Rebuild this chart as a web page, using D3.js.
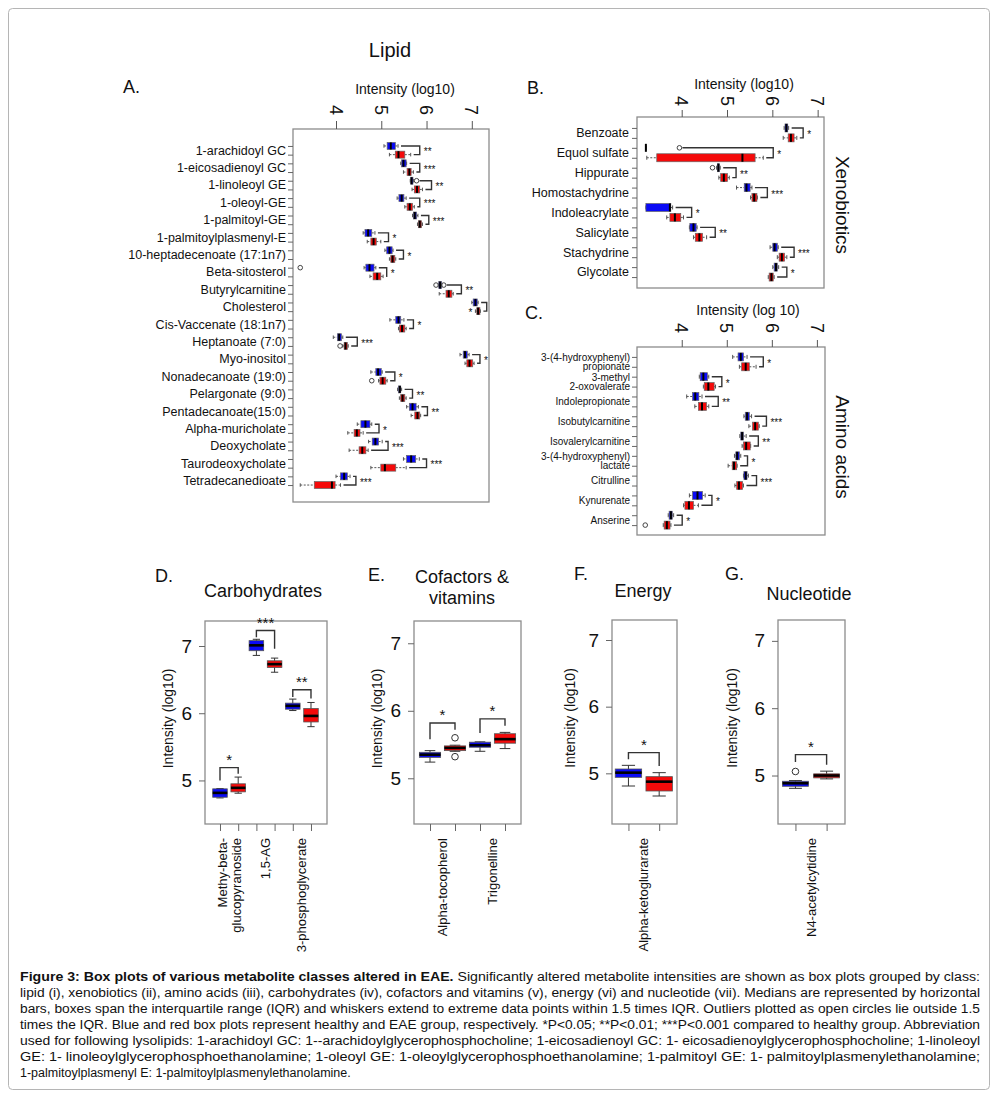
<!DOCTYPE html>
<html>
<head>
<meta charset="utf-8">
<script src="https://cdn.jsdelivr.net/npm/d3@7"></script>
<style>
  body { margin: 0; background: #fff; }
  svg text { font-family: "Liberation Sans", Arial, sans-serif; fill: #111; }
</style>
</head>
<body>
<div id="chart"></div>
<script>

// ---- data (log10 intensity: [low whisker, Q1, median, Q3, high whisker]) ----
var intensityTicks = [4, 5, 6, 7];

var lipidNames = ['1-arachidoyl GC', '1-eicosadienoyl GC', '1-linoleoyl GE', '1-oleoyl-GE', '1-palmitoyl-GE',
  '1-palmitoylplasmenyl-E', '10-heptadecenoate (17:1n7)', 'Beta-sitosterol', 'Butyrylcarnitine', 'Cholesterol',
  'Cis-Vaccenate (18:1n7)', 'Heptanoate (7:0)', 'Myo-inositol', 'Nonadecanoate (19:0)', 'Pelargonate (9:0)',
  'Pentadecanoate(15:0)', 'Alpha-muricholate', 'Deoxycholate', 'Taurodeoxycholate', 'Tetradecanedioate'];
var lipidHealthy = [[5.06,5.13,5.21,5.31,5.37],[5.43,5.45,5.49,5.55,5.56],[5.64,5.65,5.67,5.70,5.71],[5.35,5.39,5.45,5.50,5.55],
  [5.69,5.71,5.74,5.78,5.81],[4.60,4.64,4.71,4.79,4.86],[5.08,5.12,5.18,5.24,5.26],[4.62,4.66,4.74,4.84,4.88],
  [6.26,6.27,6.30,6.33,6.34],[7.00,7.03,7.08,7.12,7.14],[5.19,5.32,5.38,5.43,5.50],[3.94,4.03,4.07,4.12,4.15],
  [6.74,6.81,6.85,6.90,6.94],[4.77,4.88,4.93,5.00,5.02],[5.36,5.38,5.41,5.43,5.45],[5.56,5.62,5.69,5.77,5.82],
  [4.47,4.55,4.65,4.75,4.79],[4.72,4.80,4.87,4.94,5.02],[5.49,5.56,5.66,5.76,5.84],[4.00,4.10,4.18,4.25,4.31]];
var lipidEAE = [[5.18,5.31,5.38,5.52,5.65],[5.49,5.57,5.62,5.66,5.71],[5.68,5.73,5.79,5.85,5.91],[5.52,5.57,5.63,5.69,5.73],
  [5.80,5.82,5.85,5.89,5.91],[4.69,4.77,4.83,4.89,4.99],[5.18,5.21,5.25,5.30,5.32],[4.75,4.82,4.91,4.99,5.04],
  [6.28,6.43,6.49,6.56,6.59],[7.08,7.11,7.14,7.18,7.19],[5.38,5.40,5.46,5.52,5.55],[4.15,4.18,4.21,4.25,4.27],
  [6.85,6.89,6.95,7.02,7.05],[4.94,4.97,5.03,5.10,5.13],[5.40,5.43,5.47,5.52,5.55],[5.66,5.74,5.80,5.85,5.87],
  [4.26,4.40,4.46,4.53,4.60],[4.29,4.51,4.58,4.66,4.71],[4.77,4.99,5.08,5.32,5.55],[3.21,3.52,3.91,3.98,4.10]];
var lipidOutHealthy = [[],[],[5.78],[],[],[],[],[3.21],[6.21,6.38],[],[],[],[],[],[],[],[],[],[],[]];
var lipidOutEAE = [[],[],[],[],[],[],[],[],[],[],[],[4.09],[],[4.79],[],[],[],[],[],[]];
var lipidSig = ['**','***','**','***','***','*','*','*','**','*','*','***','*','*','**','**','*','***','***','***'];
var lipidBracket = [5.85,5.85,6.11,5.85,6.05,5.16,5.49,5.12,6.77,7.33,5.71,4.47,7.18,5.30,5.69,6.02,4.95,5.15,6.00,4.44];

var xenoNames = ['Benzoate', 'Equol sulfate', 'Hippurate', 'Homostachydrine', 'Indoleacrylate', 'Salicylate', 'Stachydrine', 'Glycolate'];
var xenoHealthy = [[6.26,6.28,6.31,6.34,6.36],[3.21,3.21,3.21,3.21,3.21],[4.77,4.79,4.81,4.83,4.85],[5.21,5.38,5.43,5.51,5.55],
  [3.21,3.21,3.74,3.76,3.80],[4.17,4.18,4.26,4.32,4.34],[5.95,6.01,6.05,6.11,6.13],[6.01,6.04,6.08,6.11,6.14]];
var xenoEAE = [[6.24,6.35,6.41,6.48,6.54],[3.23,3.45,5.34,5.62,5.80],[4.82,4.86,4.93,5.01,5.05],[5.52,5.55,5.60,5.66,5.67],
  [3.67,3.74,3.85,3.98,4.04],[4.26,4.30,4.39,4.46,4.55],[6.11,6.15,6.21,6.27,6.32],[5.91,5.93,5.98,6.02,6.04]];
var xenoOutHealthy = [[],[3.95],[4.68],[],[],[],[],[]];
var xenoOutEAE = [[],[],[],[],[],[],[],[]];
var xenoSig = ['*','*','**','***','*','**','***','*'];
var xenoBracket = [6.68,6.02,5.20,5.89,4.22,4.74,6.48,6.32];

var aminoNames = ['3-(4-hydroxyphenyl)\npropionate', '3-methyl\n2-oxovalerate', 'Indolepropionate', 'Isobutylcarnitine',
  'Isovalerylcarnitine', '3-(4-hydroxyphenyl)\nlactate', 'Citrulline', 'Kynurenate', 'Anserine'];
var aminoHealthy = [[5.13,5.25,5.31,5.37,5.45],[4.39,4.41,4.48,4.57,4.60],[4.11,4.24,4.30,4.38,4.45],[5.38,5.41,5.45,5.50,5.55],
  [5.29,5.31,5.34,5.37,5.43],[5.17,5.20,5.23,5.28,5.31],[5.37,5.38,5.42,5.45,5.48],[4.17,4.24,4.35,4.46,4.52],[3.70,3.72,3.76,3.79,3.82]];
var aminoEAE = [[5.28,5.33,5.42,5.50,5.65],[4.48,4.50,4.59,4.72,4.75],[4.29,4.37,4.45,4.55,4.60],[5.49,5.57,5.63,5.70,5.72],
  [5.34,5.37,5.43,5.52,5.53],[5.03,5.12,5.16,5.22,5.23],[5.18,5.22,5.27,5.35,5.37],[4.04,4.07,4.16,4.26,4.37],[3.59,3.61,3.67,3.74,3.76]];
var aminoOutHealthy = [[],[],[],[],[],[],[],[],[]];
var aminoOutEAE = [[],[],[],[],[],[],[],[],[3.19]];
var aminoSig = ['*','*','**','***','**','*','***','*','*'];
var aminoBracket = [5.81,4.89,4.81,5.88,5.70,5.46,5.66,4.67,4.01];

// bottom panels: bracket = [top, healthy leg end, EAE leg end]
var carbNames = ['Methy-beta-\nglucopyranoside', '1,5-AG', '3-phosphoglycerate'];
var carbHealthy = [[4.74,4.75,4.815,4.875,4.88],[6.86,6.93,7.01,7.08,7.10],[6.04,6.06,6.11,6.15,6.21]];
var carbEAE = [[4.81,4.83,4.89,4.95,5.05],[6.61,6.68,6.73,6.78,6.82],[5.80,5.87,5.96,6.07,6.16]];
var carbOutHealthy = [[],[],[]];
var carbOutEAE = [[],[],[]];
var carbSig = ['*','***','**'];
var carbBracket = [[5.19,5.00,5.10],[7.23,7.13,6.96],[6.35,6.24,6.22]];

var cofNames = ['Alpha-tocopherol', 'Trigonelline'];
var cofHealthy = [[5.24,5.31,5.35,5.385,5.41],[5.40,5.46,5.49,5.535,5.54]];
var cofEAE = [[5.40,5.41,5.45,5.48,5.49],[5.44,5.52,5.58,5.66,5.68]];
var cofOutHealthy = [[],[]];
var cofOutEAE = [[5.60,5.32],[]];
var cofSig = ['*','*'];
var cofBracket = [[5.82,5.58,5.72],[5.88,5.67,5.78]];

var energyNames = ['Alpha-ketoglurarate'];
var energyHealthy = [[4.81,4.94,5.01,5.065,5.12]];
var energyEAE = [[4.66,4.735,4.875,4.95,5.01]];
var energyOutHealthy = [[]];
var energyOutEAE = [[]];
var energySig = ['*'];
var energyBracket = [[5.31,5.21,5.11]];

var nucNames = ['N4-acetylcytidine'];
var nucHealthy = [[4.81,4.84,4.885,4.915,4.925]];
var nucEAE = [[4.95,4.965,5.00,5.025,5.065]];
var nucOutHealthy = [[5.06]];
var nucOutEAE = [[]];
var nucSig = ['*'];
var nucBracket = [[5.31,5.20,5.16]];

var captionLines = [
  ['Figure 3: Box plots of various metabolite classes altered in EAE.', ' Significantly altered metabolite intensities are shown as box plots grouped by class:'],
  ['', 'lipid (i), xenobiotics (ii), amino acids (iii), carbohydrates (iv), cofactors and vitamins (v), energy (vi) and nucleotide (vii). Medians are represented by horizontal'],
  ['', 'bars, boxes span the interquartile range (IQR) and whiskers extend to extreme data points within 1.5 times IQR. Outliers plotted as open circles lie outside 1.5'],
  ['', 'times the IQR. Blue and red box plots represent healthy and EAE group, respectively. *P<0.05; **P<0.01; ***P<0.001 compared to healthy group. Abbreviation'],
  ['', 'used for following lysolipids: 1-arachidoyl GC: 1--arachidoylglycerophosphocholine; 1-eicosadienoyl GC: 1- eicosadienoylglycerophosphocholine; 1-linoleoyl'],
  ['', 'GE: 1- linoleoylglycerophosphoethanolamine; 1-oleoyl GE: 1-oleoylglycerophosphoethanolamine; 1-palmitoyl GE: 1- palmitoylplasmenylethanolamine;'],
  ['', '1-palmitoylplasmenyl E: 1-palmitoylplasmenylethanolamine.']
];

var BLUE = '#0a0af5', RED = '#f50a0a';

var svg = d3.select('#chart').append('svg')
    .attr('width', 1000)
    .attr('height', 1095);

svg.append('rect')
    .attr('x', 8.5).attr('y', 8.5)
    .attr('width', 981).attr('height', 1081)
    .attr('rx', 4)
    .attr('fill', 'none')
    .attr('stroke', '#b5b5b5');

function label(x, y, txt, size, opts) {
  opts = opts || {};
  var t = svg.append('text')
      .attr('x', x).attr('y', y)
      .attr('font-size', size)
      .attr('text-anchor', opts.anchor || 'start')
      .text(txt);
  if (opts.rotate) t.attr('transform', 'rotate(' + opts.rotate + ',' + x + ',' + y + ')');
  return t;
}

function makeBoxes(healthy, eae, outH, outE) {
  var boxes = [];
  healthy.forEach(function (s, i) {
    boxes.push({ s: s, out: outH[i], color: BLUE, pos: 2 * i });
    boxes.push({ s: eae[i], out: outE[i], color: RED, pos: 2 * i + 1 });
  });
  return boxes;
}

// horizontal box plots (panels A, B, C)
function drawHorizontal(p) {

  var x = d3.scaleLinear().domain(p.xDomain).range([p.left, p.right]);
  var y = d3.scaleLinear().domain(p.yDomain).range([p.top, p.bottom]);
  var n = p.names.length;
  var g = svg.append('g');

  g.append('rect')
      .attr('x', p.left).attr('y', p.top)
      .attr('width', p.right - p.left).attr('height', p.bottom - p.top)
      .attr('fill', 'none').attr('stroke', '#8c8c8c').attr('stroke-width', 1.3);

  var top = g.append('g')
      .attr('transform', 'translate(0,' + p.top + ')')
      .call(d3.axisTop(x).tickValues(intensityTicks).tickSize(p.tickLen).tickFormat(''));
  top.select('.domain').remove();
  top.selectAll('line').attr('stroke', '#555');

  g.selectAll('text.tick-label')
      .data(intensityTicks)
      .enter()
    .append('text')
      .attr('class', 'tick-label')
      .attr('transform', function (d) { return 'translate(' + x(d) + ',' + p.tickLabelY + ') rotate(90)'; })
      .attr('text-anchor', 'middle')
      .attr('dy', '0.35em')
      .attr('font-size', 18)
      .text(function (d) { return d; });

  g.append('text')
      .attr('x', p.titleX).attr('y', p.titleY)
      .attr('text-anchor', 'middle')
      .attr('font-size', 14)
      .text(p.axisTitle);

  var side = g.append('g')
      .attr('transform', 'translate(' + p.left + ',0)')
      .call(d3.axisLeft(y).tickValues(d3.range(2 * n)).tickSize(5).tickFormat(''));
  side.select('.domain').remove();
  side.selectAll('line').attr('stroke', '#666');

  p.names.forEach(function (name, i) {
    var lines = name.split('\n');
    var t = g.append('text')
        .attr('y', y(2 * i + 0.5))
        .attr('text-anchor', 'end')
        .attr('font-size', p.labelSize);
    lines.forEach(function (l, k) {
      t.append('tspan')
          .attr('x', p.left - p.labelGap)
          .attr('dy', k === 0 ? (0.35 - (lines.length - 1) * 0.45) + 'em' : '0.9em')
          .text(l);
    });
  });

  var h = p.boxH;
  var boxes = makeBoxes(p.healthy, p.eae, p.outH, p.outE);

  var box = g.selectAll('g.box')
      .data(boxes)
      .enter()
    .append('g')
      .attr('transform', function (d) { return 'translate(0,' + y(d.pos) + ')'; });

  box.append('line')
      .attr('x1', function (d) { return x(d.s[0]); })
      .attr('x2', function (d) { return x(d.s[1]); })
      .attr('stroke', '#555').attr('stroke-dasharray', '2,1.5');
  box.append('line')
      .attr('x1', function (d) { return x(d.s[3]); })
      .attr('x2', function (d) { return x(d.s[4]); })
      .attr('stroke', '#555').attr('stroke-dasharray', '2,1.5');
  [0, 4].forEach(function (k) {
    box.append('line')
        .attr('x1', function (d) { return x(d.s[k]); })
        .attr('x2', function (d) { return x(d.s[k]); })
        .attr('y1', -h / 4).attr('y2', h / 4)
        .attr('stroke', '#555');
  });
  box.append('rect')
      .attr('x', function (d) { return x(d.s[1]); })
      .attr('width', function (d) { return x(d.s[3]) - x(d.s[1]); })
      .attr('y', -h / 2).attr('height', h)
      .attr('fill', function (d) { return d.color; })
      .attr('stroke', '#666').attr('stroke-width', 0.7);
  box.append('line')
      .attr('x1', function (d) { return x(d.s[2]); })
      .attr('x2', function (d) { return x(d.s[2]); })
      .attr('y1', -h / 2).attr('y2', h / 2)
      .attr('stroke', '#000').attr('stroke-width', 2);
  box.selectAll('circle')
      .data(function (d) { return d.out; })
      .enter()
    .append('circle')
      .attr('cx', function (d) { return x(d); })
      .attr('r', 2.3)
      .attr('fill', 'none').attr('stroke', '#444');

  // significance brackets
  p.bracket.forEach(function (b, i) {
    var hb = boxes[2 * i], eb = boxes[2 * i + 1];
    var yt = y(hb.pos), yb = y(eb.pos), bx = x(b);
    var st = x(d3.max([hb.s[4]].concat(hb.out))) + 3;
    var sb = x(d3.max([eb.s[4]].concat(eb.out))) + 3;
    g.append('path')
        .attr('d', 'M' + st + ',' + yt + 'H' + bx + 'V' + yb + 'H' + sb)
        .attr('fill', 'none').attr('stroke', '#333').attr('stroke-width', 1.4);
    var w = p.sig[i].length * 4.5;
    var t = g.append('text').attr('font-size', 10).text(p.sig[i]);
    if (bx + 4 + w > p.right) {
      t.attr('x', x(d3.min([eb.s[0]].concat(eb.out))) - 3).attr('y', yb + 5).attr('text-anchor', 'end');
    } else {
      t.attr('x', bx + 4).attr('y', (yt + yb) / 2 + 5);
    }
  });
}

// vertical box plots (panels D, E, F, G)
function drawVertical(p) {

  var x = d3.scaleLinear().domain(p.xDomain).range([p.left, p.right]);
  var y = d3.scaleLinear().domain(p.yDomain).range([p.bottom, p.top]);
  var n = p.names.length;
  var g = svg.append('g');

  g.append('rect')
      .attr('x', p.left).attr('y', p.top)
      .attr('width', p.right - p.left).attr('height', p.bottom - p.top)
      .attr('fill', 'none').attr('stroke', '#8c8c8c').attr('stroke-width', 1.3);

  var ax = g.append('g')
      .attr('transform', 'translate(' + p.left + ',0)')
      .call(d3.axisLeft(y).tickValues([5, 6, 7]).tickSize(6).tickPadding(7).tickFormat(d3.format('d')));
  ax.select('.domain').remove();
  ax.selectAll('line').attr('stroke', '#666');
  ax.selectAll('text').attr('font-size', 19).attr('fill', '#111')
      .attr('font-family', '"Liberation Sans", Arial, sans-serif');

  var bx = g.append('g')
      .attr('transform', 'translate(0,' + p.bottom + ')')
      .call(d3.axisBottom(x).tickValues(d3.range(1, 2 * n + 1)).tickSize(7).tickFormat(''));
  bx.select('.domain').remove();
  bx.selectAll('line').attr('stroke', '#666');

  g.append('text')
      .attr('transform', 'translate(' + p.ylabelX + ',' + ((p.top + p.bottom) / 2 - 4) + ') rotate(-90)')
      .attr('text-anchor', 'middle')
      .attr('dy', '0.35em')
      .attr('font-size', 14)
      .text('Intensity (log10)');

  p.names.forEach(function (name, i) {
    var lines = name.split('\n');
    var cx = x(2 * i + 1.5);
    var t = g.append('text')
        .attr('transform', 'translate(' + cx + ',' + (p.bottom + 14) + ') rotate(-90)')
        .attr('text-anchor', 'end')
        .attr('font-size', 13);
    lines.forEach(function (l, k) {
      t.append('tspan')
          .attr('x', 0)
          .attr('dy', k === 0 ? (0.35 - (lines.length - 1) * 0.55) + 'em' : '1.1em')
          .text(l);
    });
  });

  var w = (x(2) - x(1)) * p.boxW;
  var boxes = makeBoxes(p.healthy, p.eae, p.outH, p.outE);

  var box = g.selectAll('g.box')
      .data(boxes)
      .enter()
    .append('g')
      .attr('transform', function (d) { return 'translate(' + x(d.pos + 1) + ',0)'; });

  box.append('line')
      .attr('y1', function (d) { return y(d.s[0]); })
      .attr('y2', function (d) { return y(d.s[4]); })
      .attr('stroke', '#333');
  [0, 4].forEach(function (k) {
    box.append('line')
        .attr('x1', -w / 4).attr('x2', w / 4)
        .attr('y1', function (d) { return y(d.s[k]); })
        .attr('y2', function (d) { return y(d.s[k]); })
        .attr('stroke', '#333');
  });
  box.append('rect')
      .attr('x', -w / 2).attr('width', w)
      .attr('y', function (d) { return y(d.s[3]); })
      .attr('height', function (d) { return y(d.s[1]) - y(d.s[3]); })
      .attr('fill', function (d) { return d.color; })
      .attr('stroke', '#555').attr('stroke-width', 0.8);
  box.append('line')
      .attr('x1', -w / 2).attr('x2', w / 2)
      .attr('y1', function (d) { return y(d.s[2]); })
      .attr('y2', function (d) { return y(d.s[2]); })
      .attr('stroke', '#000').attr('stroke-width', 2.6);
  box.selectAll('circle')
      .data(function (d) { return d.out; })
      .enter()
    .append('circle')
      .attr('cy', function (d) { return y(d); })
      .attr('r', 3.3)
      .attr('fill', 'none').attr('stroke', '#333');

  p.bracket.forEach(function (b, i) {
    var x1 = x(2 * i + 1), x2 = x(2 * i + 2), yt = y(b[0]);
    g.append('path')
        .attr('d', 'M' + x1 + ',' + y(b[1]) + 'V' + yt + 'H' + x2 + 'V' + y(b[2]))
        .attr('fill', 'none').attr('stroke', '#333').attr('stroke-width', 1.4);
    g.append('text')
        .attr('x', (x1 + x2) / 2).attr('y', yt - 3)
        .attr('text-anchor', 'middle')
        .attr('font-size', 15)
        .text(p.sig[i]);
  });
}

// ---- panel A ----
label(390, 57, 'Lipid', 20, { anchor: 'middle' });
label(123, 93, 'A.', 18);
drawHorizontal({
  left: 293, right: 489, top: 129, bottom: 502,
  xDomain: [3.05, 7.38], yDomain: [-1.95, 40.95],
  tickLen: 8, tickLabelY: 110, titleX: 405, titleY: 94, axisTitle: 'Intensity (log10)',
  boxH: 7, labelSize: 12.5, labelGap: 7,
  names: lipidNames, healthy: lipidHealthy, eae: lipidEAE,
  outH: lipidOutHealthy, outE: lipidOutEAE, sig: lipidSig, bracket: lipidBracket
});

// ---- panel B ----
label(527, 94, 'B.', 18);
drawHorizontal({
  left: 637, right: 824, top: 117, bottom: 288,
  xDomain: [3.014, 7.14], yDomain: [-1.1, 16.1],
  tickLen: 7, tickLabelY: 101, titleX: 744, titleY: 89, axisTitle: 'Intensity (log10)',
  boxH: 8, labelSize: 12.5, labelGap: 8,
  names: xenoNames, healthy: xenoHealthy, eae: xenoEAE,
  outH: xenoOutHealthy, outE: xenoOutEAE, sig: xenoSig, bracket: xenoBracket
});
label(843, 205, 'Xenobiotics', 19, { anchor: 'middle', rotate: 90 }).attr('dy', '0.35em');

// ---- panel C ----
label(525, 319, 'C.', 18);
drawHorizontal({
  left: 637, right: 825, top: 347, bottom: 535,
  xDomain: [3.007, 7.18], yDomain: [-1, 18],
  tickLen: 7, tickLabelY: 328, titleX: 748, titleY: 315, axisTitle: 'Intensity (log 10)',
  boxH: 8, labelSize: 10, labelGap: 7,
  names: aminoNames, healthy: aminoHealthy, eae: aminoEAE,
  outH: aminoOutHealthy, outE: aminoOutEAE, sig: aminoSig, bracket: aminoBracket
});
label(843, 447, 'Amino acids', 19, { anchor: 'middle', rotate: 90 }).attr('dy', '0.35em');

// ---- panels D-G ----
label(155, 582, 'D.', 18);
label(263, 597, 'Carbohydrates', 18, { anchor: 'middle' });
drawVertical({
  left: 205, right: 327, top: 621, bottom: 824,
  xDomain: [0.176, 6.88], yDomain: [4.352, 7.372], boxW: 0.8, ylabelX: 168,
  names: carbNames, healthy: carbHealthy, eae: carbEAE,
  outH: carbOutHealthy, outE: carbOutEAE, sig: carbSig, bracket: carbBracket
});

label(368, 581, 'E.', 18);
label(462, 583, 'Cofactors &', 18, { anchor: 'middle' });
label(462, 604, 'vitamins', 18, { anchor: 'middle' });
drawVertical({
  left: 414, right: 521, top: 621, bottom: 824,
  xDomain: [0.36, 4.64], yDomain: [4.323, 7.33], boxW: 0.85, ylabelX: 377,
  names: cofNames, healthy: cofHealthy, eae: cofEAE,
  outH: cofOutHealthy, outE: cofOutEAE, sig: cofSig, bracket: cofBracket
});

label(574, 580, 'F.', 18);
label(643, 597, 'Energy', 18, { anchor: 'middle' });
drawVertical({
  left: 612, right: 677, top: 620, bottom: 824,
  xDomain: [0.465, 2.58], yDomain: [4.24, 7.30], boxW: 0.86, ylabelX: 570,
  names: energyNames, healthy: energyHealthy, eae: energyEAE,
  outH: energyOutHealthy, outE: energyOutEAE, sig: energySig, bracket: energyBracket
});

label(725, 580, 'G.', 18);
label(809, 600, 'Nucleotide', 18, { anchor: 'middle' });
drawVertical({
  left: 778, right: 845, top: 620, bottom: 824,
  xDomain: [0.44, 2.59], yDomain: [4.28, 7.31], boxW: 0.83, ylabelX: 732,
  names: nucNames, healthy: nucHealthy, eae: nucEAE,
  outH: nucOutHealthy, outE: nucOutEAE, sig: nucSig, bracket: nucBracket
});

// ---- caption ----
captionLines.forEach(function (parts, i) {
  var t = svg.append('text')
      .attr('x', 20)
      .attr('y', 981 + i * 16)
      .attr('font-size', 12.5)
      .attr('fill', '#222');
  if (parts[0]) t.append('tspan').attr('font-weight', 'bold').text(parts[0]);
  t.append('tspan').text(parts[1]);
  if (i < captionLines.length - 1) {
    t.attr('textLength', 960).attr('lengthAdjust', 'spacingAndGlyphs');
  }
});

</script>
</body>
</html>
